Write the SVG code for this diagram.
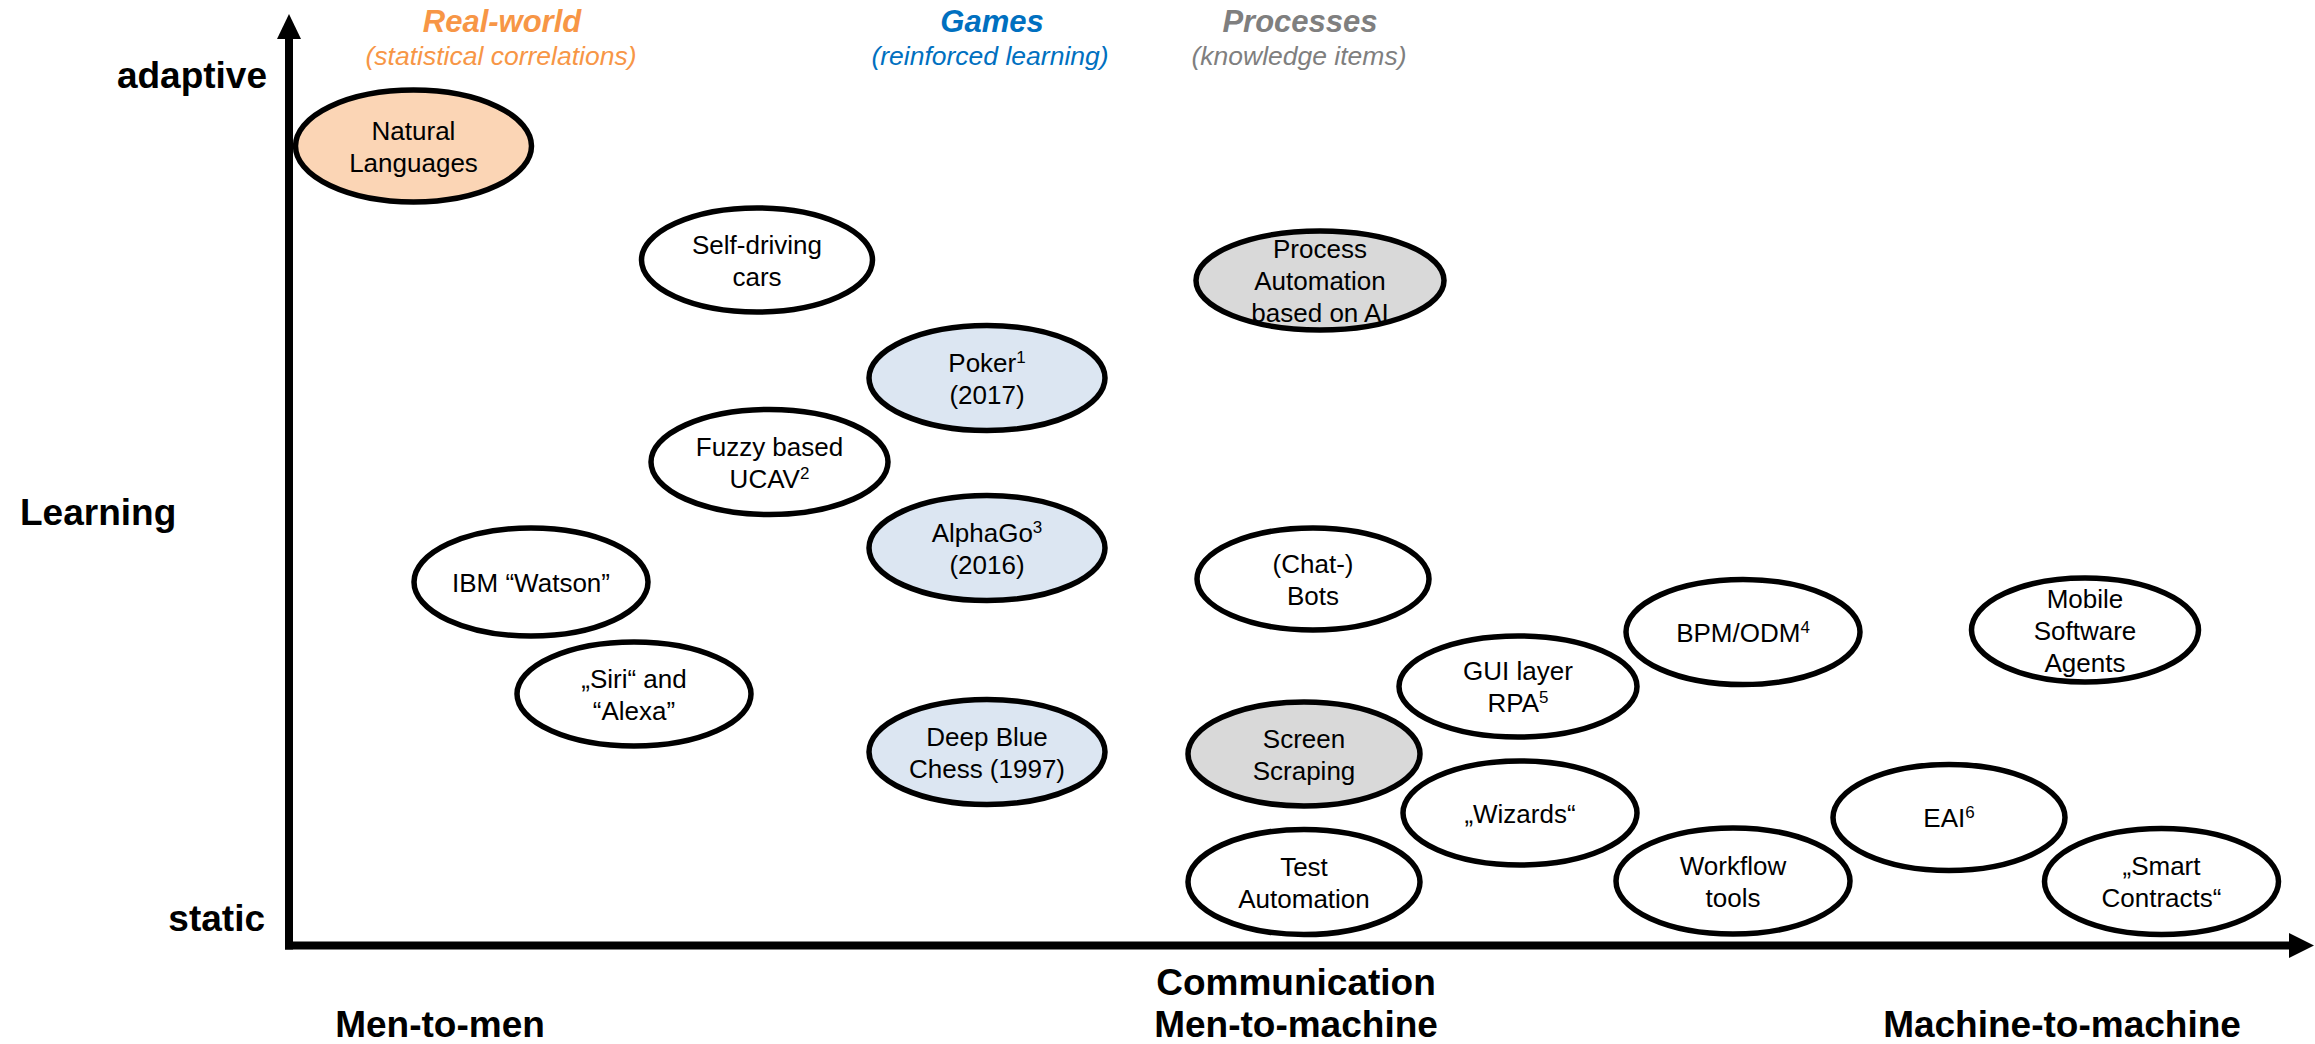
<svg xmlns="http://www.w3.org/2000/svg" width="2315" height="1044" viewBox="0 0 2315 1044">
<style>
.n{stroke:#000;stroke-width:5.5}
.w{fill:#fff}.o{fill:#FBD5B5}.b{fill:#DCE6F2}.g{fill:#D9D9D9}
text{font-family:"Liberation Sans",Arial,sans-serif}
.t{font-size:26px;fill:#000;text-anchor:middle}
.ax{font-size:37px;font-weight:bold;fill:#000}
.h1{font-size:31px;font-weight:bold;font-style:italic;text-anchor:middle}
.h2{font-size:26.5px;font-style:italic;text-anchor:middle}
.sup{font-size:17px}
</style>
<rect width="2315" height="1044" fill="#fff"/>
<g id="axes">
<line x1="289" y1="36" x2="289" y2="949.5" stroke="#000" stroke-width="8"/>
<line x1="285" y1="945.5" x2="2292" y2="945.5" stroke="#000" stroke-width="8"/>
<polygon points="289,14 277,39 301,39" fill="#000"/>
<polygon points="2314,945.5 2289,933 2289,958" fill="#000"/>
</g>
<g id="labels">
<text class="ax" x="267" y="88" text-anchor="end">adaptive</text>
<text class="ax" x="20" y="525">Learning</text>
<text class="ax" x="265" y="931" text-anchor="end">static</text>
<text class="ax" x="440" y="1037" text-anchor="middle">Men-to-men</text>
<text class="ax" x="1296" y="995" text-anchor="middle">Communication</text>
<text class="ax" x="1296" y="1037" text-anchor="middle">Men-to-machine</text>
<text class="ax" x="2062" y="1037" text-anchor="middle">Machine-to-machine</text>
<text class="h1" x="502" y="32" fill="#F79646">Real-world</text>
<text class="h2" x="501" y="65" fill="#F79646">(statistical correlations)</text>
<text class="h1" x="992" y="32" fill="#0070C0">Games</text>
<text class="h2" x="990" y="65" fill="#0070C0">(reinforced learning)</text>
<text class="h1" x="1300" y="32" fill="#7F7F7F">Processes</text>
<text class="h2" x="1299" y="65" fill="#7F7F7F">(knowledge items)</text>
</g>
<g id="connectors"></g>
<g id="natural-languages"><ellipse class="n o" cx="413.5" cy="146" rx="118" ry="56"/><text class="t" x="413.5" y="139.5">Natural</text><text class="t" x="413.5" y="171.5">Languages</text></g>
<g id="self-driving"><ellipse class="n w" cx="757" cy="260" rx="115.5" ry="52"/><text class="t" x="757" y="253.5">Self-driving</text><text class="t" x="757" y="285.5">cars</text></g>
<g id="poker"><ellipse class="n b" cx="987" cy="378" rx="118" ry="52.5"/><text class="t" x="987" y="371.5">Poker<tspan class="sup" baseline-shift="super">1</tspan></text><text class="t" x="987" y="403.5">(2017)</text></g>
<g id="fuzzy"><ellipse class="n w" cx="769.5" cy="462" rx="118.5" ry="52.5"/><text class="t" x="769.5" y="455.5">Fuzzy based</text><text class="t" x="769.5" y="487.5">UCAV<tspan class="sup" baseline-shift="super">2</tspan></text></g>
<g id="alphago"><ellipse class="n b" cx="987" cy="548" rx="118" ry="52.5"/><text class="t" x="987" y="541.5">AlphaGo<tspan class="sup" baseline-shift="super">3</tspan></text><text class="t" x="987" y="573.5">(2016)</text></g>
<g id="watson"><ellipse class="n w" cx="531" cy="582" rx="117" ry="54"/><text class="t" x="531" y="591.5">IBM “Watson”</text></g>
<g id="siri"><ellipse class="n w" cx="634" cy="694" rx="117" ry="52"/><text class="t" x="634" y="687.5">„Siri“ and</text><text class="t" x="634" y="719.5">“Alexa”</text></g>
<g id="deep-blue"><ellipse class="n b" cx="987" cy="752" rx="118" ry="52.5"/><text class="t" x="987" y="745.5">Deep Blue</text><text class="t" x="987" y="777.5">Chess (1997)</text></g>
<g id="process-automation"><ellipse class="n g" cx="1320" cy="280.5" rx="124" ry="49.5"/><text class="t" x="1320" y="258">Process</text><text class="t" x="1320" y="290">Automation</text><text class="t" x="1320" y="322">based on AI</text></g>
<g id="chat-bots"><ellipse class="n w" cx="1313" cy="579" rx="116" ry="51"/><text class="t" x="1313" y="572.5">(Chat-)</text><text class="t" x="1313" y="604.5">Bots</text></g>
<g id="bpm-odm"><ellipse class="n w" cx="1743" cy="632" rx="117" ry="52.5"/><text class="t" x="1743" y="641.5">BPM/ODM<tspan class="sup" baseline-shift="super">4</tspan></text></g>
<g id="gui-rpa"><ellipse class="n w" cx="1518" cy="686.5" rx="119" ry="50.5"/><text class="t" x="1518" y="680">GUI layer</text><text class="t" x="1518" y="712">RPA<tspan class="sup" baseline-shift="super">5</tspan></text></g>
<g id="screen-scraping"><ellipse class="n g" cx="1304" cy="754" rx="116" ry="52"/><text class="t" x="1304" y="747.5">Screen</text><text class="t" x="1304" y="779.5">Scraping</text></g>
<g id="wizards"><ellipse class="n w" cx="1520" cy="813" rx="117" ry="52"/><text class="t" x="1520" y="822.5">„Wizards“</text></g>
<g id="test-automation"><ellipse class="n w" cx="1304" cy="882" rx="116" ry="52.5"/><text class="t" x="1304" y="875.5">Test</text><text class="t" x="1304" y="907.5">Automation</text></g>
<g id="workflow"><ellipse class="n w" cx="1733" cy="881" rx="117" ry="53"/><text class="t" x="1733" y="874.5">Workflow</text><text class="t" x="1733" y="906.5">tools</text></g>
<g id="eai"><ellipse class="n w" cx="1949" cy="817.5" rx="116" ry="53"/><text class="t" x="1949" y="827">EAI<tspan class="sup" baseline-shift="super">6</tspan></text></g>
<g id="mobile-agents"><ellipse class="n w" cx="2085" cy="630" rx="113.5" ry="52"/><text class="t" x="2085" y="607.5">Mobile</text><text class="t" x="2085" y="639.5">Software</text><text class="t" x="2085" y="671.5">Agents</text></g>
<g id="smart-contracts"><ellipse class="n w" cx="2161.5" cy="881.5" rx="117" ry="53"/><text class="t" x="2161.5" y="875">„Smart</text><text class="t" x="2161.5" y="907">Contracts“</text></g>
</svg>
